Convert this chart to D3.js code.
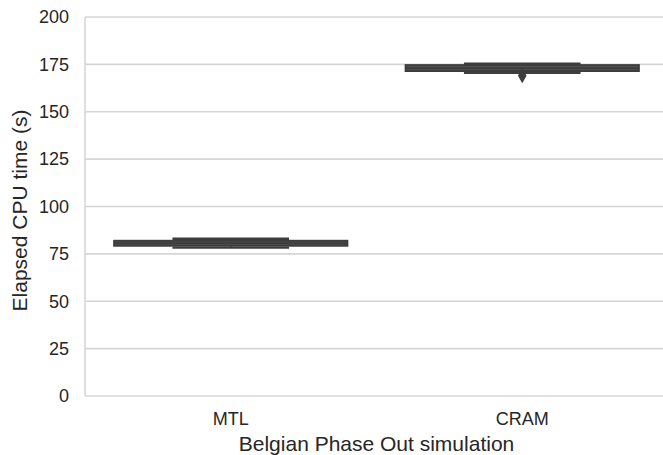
<!DOCTYPE html>
<html lang="en">
<head>
<meta charset="utf-8">
<title>Elapsed CPU time</title>
<script src="https://cdn.jsdelivr.net/npm/d3@7"></script>
<style>
  body { margin: 0; background: #fff; }
  svg text { font-family: "Liberation Sans", Arial, sans-serif; fill: #262626; }
</style>
</head>
<body>
<div id="chart"></div>
<script>
  // box statistics
  const categories = ['MTL', 'CRAM'];
  const whiskerLow = [78.3, 170.5];
  const q1 = [79.3, 171.5];
  const median = [80.6, 173.0];
  const q3 = [81.9, 174.6];
  const whiskerHigh = [83.0, 175.3];
  const outliers = [[], [169.0]];
  const yTicks = [0, 25, 50, 75, 100, 125, 150, 175, 200];

  const width = 663, height = 455;
  const margin = { top: 17, right: -5, bottom: 59, left: 85 };
  const gridColor = '#d6d6d6';
  const boxFill = '#555555', lineColor = '#3d3d3d';

  const svg = d3.select('#chart').append('svg')
    .attr('width', width).attr('height', height);

  const x = d3.scaleBand().domain(categories)
    .range([margin.left, width - margin.right]).padding(0);
  const y = d3.scaleLinear().domain([0, 200])
    .range([height - margin.bottom, margin.top]);

  // grid
  svg.append('g').selectAll('line').data(yTicks).join('line')
    .attr('x1', margin.left).attr('x2', width - margin.right)
    .attr('y1', d => y(d)).attr('y2', d => y(d))
    .attr('stroke', gridColor).attr('stroke-width', 1.6);

  // left spine
  svg.append('line')
    .attr('x1', margin.left).attr('x2', margin.left)
    .attr('y1', y(0)).attr('y2', y(200))
    .attr('stroke', gridColor).attr('stroke-width', 1.6);

  // y axis
  const yAxis = d3.axisLeft(y).tickValues(yTicks).tickSize(0).tickPadding(16);
  const gy = svg.append('g').attr('transform', `translate(${margin.left},0)`).call(yAxis);
  gy.select('.domain').remove();
  gy.selectAll('text').attr('font-size', 18).style('font-family', '"Liberation Sans", Arial, sans-serif').attr('fill', '#262626');

  // x axis
  const xAxis = d3.axisBottom(x).tickSize(0).tickPadding(16);
  const gx = svg.append('g').attr('transform', `translate(0,${y(0)})`).call(xAxis);
  gx.select('.domain').remove();
  gx.selectAll('text').attr('font-size', 18).style('font-family', '"Liberation Sans", Arial, sans-serif').attr('fill', '#262626');

  // labels
  svg.append('text')
    .attr('x', (margin.left + width - margin.right) / 2).attr('y', 451)
    .attr('text-anchor', 'middle').attr('font-size', 21)
    .text('Belgian Phase Out simulation');

  svg.append('text')
    .attr('transform', `translate(27,${(y(0) + y(200)) / 2 + 4}) rotate(-90)`)
    .attr('text-anchor', 'middle').attr('font-size', 21)
    .text('Elapsed CPU time (s)');

  // boxes
  const boxW = x.bandwidth() * 0.8;
  const capW = boxW * 0.5;
  const boxes = svg.append('g').selectAll('g').data(categories).join('g')
    .attr('transform', d => `translate(${x(d) + x.bandwidth() / 2},0)`);

  boxes.append('line')
    .attr('x1', 0).attr('x2', 0)
    .attr('y1', (d, i) => y(whiskerLow[i])).attr('y2', (d, i) => y(whiskerHigh[i]))
    .attr('stroke', lineColor).attr('stroke-width', 2);

  boxes.append('rect')
    .attr('x', -boxW / 2).attr('width', boxW)
    .attr('y', (d, i) => y(q3[i]))
    .attr('height', (d, i) => y(q1[i]) - y(q3[i]))
    .attr('fill', boxFill).attr('stroke', lineColor).attr('stroke-width', 2);

  boxes.append('line')
    .attr('x1', -boxW / 2).attr('x2', boxW / 2)
    .attr('y1', (d, i) => y(median[i])).attr('y2', (d, i) => y(median[i]))
    .attr('stroke', lineColor).attr('stroke-width', 2);

  [whiskerLow, whiskerHigh].forEach(arr => {
    boxes.append('line')
      .attr('x1', -capW / 2).attr('x2', capW / 2)
      .attr('y1', (d, i) => y(arr[i])).attr('y2', (d, i) => y(arr[i]))
      .attr('stroke', lineColor).attr('stroke-width', 2.4);
  });

  boxes.each(function (d, i) {
    d3.select(this).selectAll('path').data(outliers[i]).join('path')
      .attr('d', d3.symbol(d3.symbolDiamond, 64))
      .attr('transform', v => `translate(0,${y(v)})`)
      .attr('fill', lineColor);
  });
</script>
</body>
</html>
